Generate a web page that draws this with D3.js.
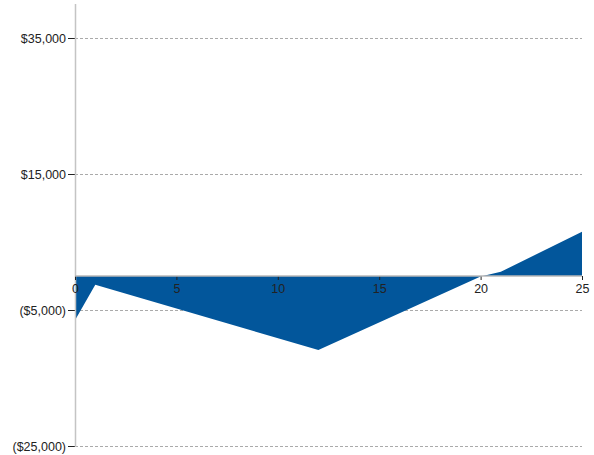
<!DOCTYPE html>
<html>
<head>
<meta charset="utf-8">
<script src="https://cdn.jsdelivr.net/npm/d3@7"></script>
<style>
  html, body { margin: 0; padding: 0; background: #fff; }
  svg { display: block; font-family: Arial, "Liberation Sans", sans-serif; }
  .tick text { fill: #222; font-size: 12.5px; }
</style>
</head>
<body>
<svg id="chart" width="594" height="455"></svg>
<script>
// Cumulative balance by period
const periods = [0, 1, 12, 20, 21, 25];
const balances = [-6500, -1300, -10900, -90, 630, 6500];
const xTicks = [0, 5, 10, 15, 20, 25];
const yTicks = [-25000, -5000, 15000, 35000];

const svg = d3.select("#chart");
const plot = { left: 75, right: 582, top: 4, bottom: 446 };

const x = d3.scaleLinear().domain([0, 25]).range([plot.left, plot.right]);
const y = d3.scaleLinear().domain([-25000, 40000]).range([plot.bottom, plot.top]);

const money = v => v < 0 ? "($" + d3.format(",")(-v) + ")" : "$" + d3.format(",")(v);

// dashed gridlines
svg.append("g")
  .selectAll("line")
  .data(yTicks)
  .join("line")
  .attr("x1", plot.left).attr("x2", plot.right)
  .attr("y1", d => y(d) + 0.5).attr("y2", d => y(d) + 0.5)
  .attr("stroke", "#aaa")
  .attr("stroke-dasharray", "3,2");

// area between zero and the balance
const data = periods.map((p, i) => ({ p, v: balances[i] }));
svg.append("path")
  .datum(data)
  .attr("fill", "#02569b")
  .attr("d", d3.area()
    .x(d => x(d.p))
    .y0(y(0))
    .y1(d => y(d.v)));

// y axis
const yAxis = svg.append("g")
  .attr("transform", `translate(${plot.left},0)`)
  .call(d3.axisLeft(y).tickValues(yTicks).tickFormat(money).tickSize(7).tickPadding(2));
yAxis.select(".domain").remove();
yAxis.selectAll(".tick line").attr("stroke", "#222");
svg.append("line")
  .attr("x1", plot.left + 0.5).attr("x2", plot.left + 0.5)
  .attr("y1", plot.top).attr("y2", plot.bottom + 1)
  .attr("stroke", "#c4c4c4").attr("stroke-width", 1.5);

// x axis at zero
const xAxis = svg.append("g")
  .attr("transform", `translate(0,${y(0)})`)
  .call(d3.axisBottom(x).tickValues(xTicks).tickSize(4).tickPadding(4));
xAxis.select(".domain").remove();
xAxis.selectAll(".tick line").attr("stroke", "#222");
svg.append("line")
  .attr("x1", plot.left).attr("x2", plot.right)
  .attr("y1", y(0)).attr("y2", y(0))
  .attr("stroke", "#b8b8b8").attr("stroke-width", 1.5);
</script>
</body>
</html>
